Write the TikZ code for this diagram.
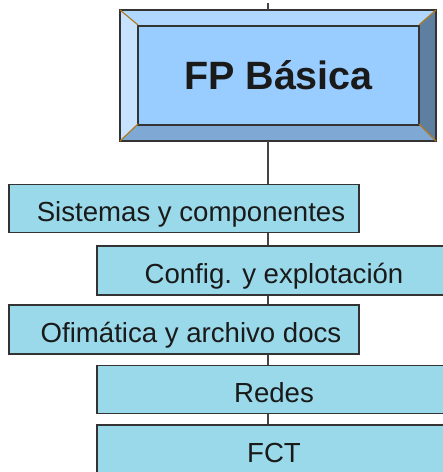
\documentclass[tikz,border=0pt]{standalone}
\usepackage{fontspec}
\setmainfont{Liberation Sans}
\definecolor{boxfill}{HTML}{99D9EA}
\definecolor{edge}{HTML}{333333}
\definecolor{bigin}{HTML}{99CCFF}
\definecolor{bevtop}{HTML}{B0D7FF}
\definecolor{bevleft}{HTML}{C6E2FF}
\definecolor{bevbot}{HTML}{7FA8D4}
\definecolor{bevright}{HTML}{5F7FA0}
\definecolor{corner}{HTML}{B07A20}
\definecolor{wire}{HTML}{444444}
\definecolor{txt}{HTML}{1A1A1A}
\tikzset{
  course/.style={draw=edge, line width=1.6pt, fill=boxfill, inner sep=0pt, text=txt,
    font=\fontsize{27.6}{30}\selectfont, text height=37pt, text depth=11pt},
  wirestyle/.style={draw=wire, line width=1.5pt},
  bevelline/.style={draw=edge, line width=1.2pt},
}
\begin{document}
\begin{tikzpicture}[x=1pt,y=-1pt]
\useasboundingbox (0,0) rectangle (443,472);
\clip (0,0) rectangle (443,472);
% big bevelled box
\coordinate (oTL) at (120,10);
\coordinate (oTR) at (436,10);
\coordinate (oBL) at (120,141);
\coordinate (oBR) at (436,141);
\coordinate (iTL) at (138,25);
\coordinate (iTR) at (419,25);
\coordinate (iBL) at (138,124);
\coordinate (iBR) at (419,124);
\fill[bevtop] (oTL) -- (oTR) -- (iTR) -- (iTL) -- cycle;
\fill[bevleft] (oTL) -- (iTL) -- (iBL) -- (oBL) -- cycle;
\fill[bevbot] (oBL) -- (iBL) -- (iBR) -- (oBR) -- cycle;
\fill[bevright] (oTR) -- (oBR) -- (iBR) -- (iTR) -- cycle;
\node[draw=edge, line width=1.2pt, fill=bigin, inner sep=0pt, text=txt,
  minimum width=281pt, minimum height=99pt, text height=28pt, text depth=0pt,
  font=\fontsize{39.5}{42}\selectfont\bfseries] (fp) at (278.5,75.5) {FP Básica};
\draw[bevelline] (oTL) rectangle (oBR);
\draw[corner, line width=1.2pt] (oTL) -- (iTL) (oTR) -- (iTR) (oBL) -- (iBL) (oBR) -- (iBR);
% top stub
\coordinate (top) at (268,3);
\draw[wirestyle] (top) -- (268,10);
% course boxes
\node[course, minimum width=350pt, minimum height=47pt] (s1) at (184,208.5) {\hspace*{14pt}Sistemas y componentes};
\node[course, minimum width=354pt, minimum height=49pt] (s2) at (274,270.5) {Config. y explotación};
\node[course, minimum width=350pt, minimum height=49pt] (s3) at (184,329.5) {\hspace*{14pt}Ofimática y archivo docs};
\node[course, minimum width=354pt, minimum height=47pt] (s4) at (274,389.5) {Redes};
\node[course, minimum width=354pt, minimum height=49pt] (s5) at (274,449.5) {FCT};
% connectors
\draw[wirestyle] (268,141) -- (s1.north -| 268,0);
\draw[wirestyle] (s1.south -| 268,0) -- (s2.north -| 268,0);
\draw[wirestyle] (s2.south -| 268,0) -- (s3.north -| 268,0);
\draw[wirestyle] (s3.south -| 268,0) -- (s4.north -| 268,0);
\draw[wirestyle] (s4.south -| 268,0) -- (s5.north -| 268,0);
\end{tikzpicture}
\end{document}
